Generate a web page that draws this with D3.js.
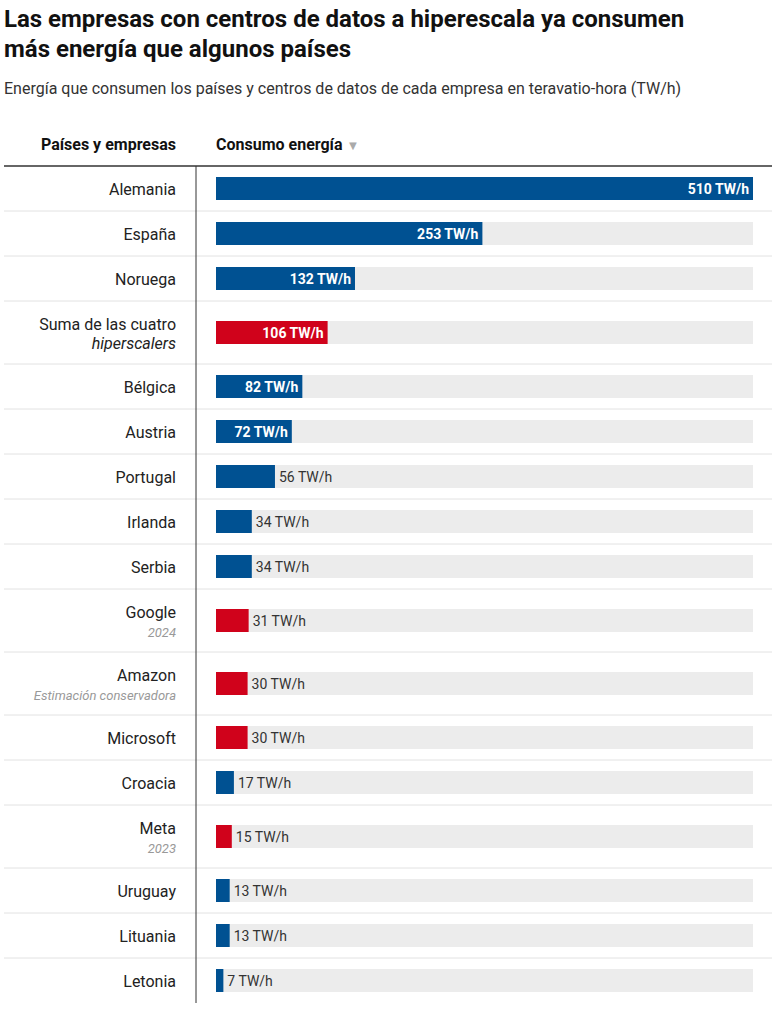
<!DOCTYPE html>
<html><head><meta charset="utf-8">
<script src="https://cdn.jsdelivr.net/npm/d3@7"></script>
<style>
body{margin:0;background:#fff;font-family:Roboto,sans-serif;}
</style></head>
<body><svg id="chart"></svg>
<script>
const names = ["Alemania","España","Noruega","Suma de las cuatro","Bélgica","Austria","Portugal","Irlanda","Serbia","Google","Amazon","Microsoft","Croacia","Meta","Uruguay","Lituania","Letonia"];
const notes = ["","","","hiperscalers","","","","","","2024","Estimación conservadora","","","2023","","",""];
const noteItalicDark = [false,false,false,true,false,false,false,false,false,false,false,false,false,false,false,false,false];
const values = [510,253,132,106,82,72,56,34,34,31,30,30,17,15,13,13,7];
const isCompany = [false,false,false,true,false,false,false,false,false,true,true,true,false,true,false,false,false];

const W = 775, H = 1018;
const svg = d3.select("#chart").attr("width", W).attr("height", H);

svg.append("text").attr("x",4).attr("y",27).attr("font-size",24).attr("font-weight",700).attr("fill","#111")
  .text("Las empresas con centros de datos a hiperescala ya consumen");
svg.append("text").attr("x",4).attr("y",57).attr("font-size",24).attr("font-weight",700).attr("fill","#111")
  .text("más energía que algunos países");
svg.append("text").attr("x",4).attr("y",94).attr("font-size",16).attr("fill","#333")
  .text("Energía que consumen los países y centros de datos de cada empresa en teravatio-hora (TW/h)");

svg.append("text").attr("x",176).attr("y",150).attr("text-anchor","end").attr("font-size",16).attr("font-weight",700).attr("fill","#111").text("Países y empresas");
const hdr = svg.append("text").attr("x",216).attr("y",150).attr("font-size",16).attr("font-weight",700).attr("fill","#111");
hdr.append("tspan").text("Consumo energía ");
hdr.append("tspan").attr("fill","#aaa").attr("font-size",13).text("▼");

const tableTop = 166, left = 4, right = 772;
const rowH = notes.map(n => n ? 63 : 45);
const ys = [];
let acc = tableTop;
rowH.forEach(h => { ys.push(acc); acc += h; });

const x = d3.scaleLinear().domain([0, d3.max(values)]).range([216, 753]);
const barH = 23;

names.forEach((n, i) => {
  const y0 = ys[i], h = rowH[i], cy = y0 + h / 2;
  if (i > 0) svg.append("line").attr("x1",left).attr("x2",right).attr("y1",y0).attr("y2",y0).attr("stroke","#e2e2e2");
  if (notes[i]) {
    svg.append("text").attr("x",176).attr("y",cy-3).attr("text-anchor","end").attr("font-size",16).attr("fill","#222").text(n);
    svg.append("text").attr("x",176).attr("y",cy+16).attr("text-anchor","end")
      .attr("font-size",noteItalicDark[i]?16:13).attr("font-style","italic")
      .attr("fill",noteItalicDark[i]?"#222":"#999").text(notes[i]);
  } else {
    svg.append("text").attr("x",176).attr("y",cy+6).attr("text-anchor","end").attr("font-size",16).attr("fill","#222").text(n);
  }
  svg.append("rect").attr("x",x(0)).attr("y",cy-barH/2).attr("width",x(510)-x(0)).attr("height",barH).attr("fill","#ececec");
  svg.append("rect").attr("x",x(0)).attr("y",cy-barH/2).attr("width",x(values[i])-x(0)).attr("height",barH)
    .attr("fill", isCompany[i] ? "#d0021b" : "#005192");
  const lbl = values[i] + " TW/h";
  if (values[i] >= 70) {
    svg.append("text").attr("x",x(values[i])-4).attr("y",cy+5).attr("text-anchor","end").attr("font-size",14)
      .attr("font-weight",700).attr("fill","#fff").text(lbl);
  } else {
    svg.append("text").attr("x",x(values[i])+4).attr("y",cy+5).attr("font-size",14).attr("fill","#333").text(lbl);
  }
});

svg.append("line").attr("x1",left).attr("x2",right).attr("y1",tableTop).attr("y2",tableTop).attr("stroke","#333").attr("stroke-width",1.5);
svg.append("line").attr("x1",196).attr("x2",196).attr("y1",tableTop).attr("y2",acc).attr("stroke","#333");
</script></body></html>
